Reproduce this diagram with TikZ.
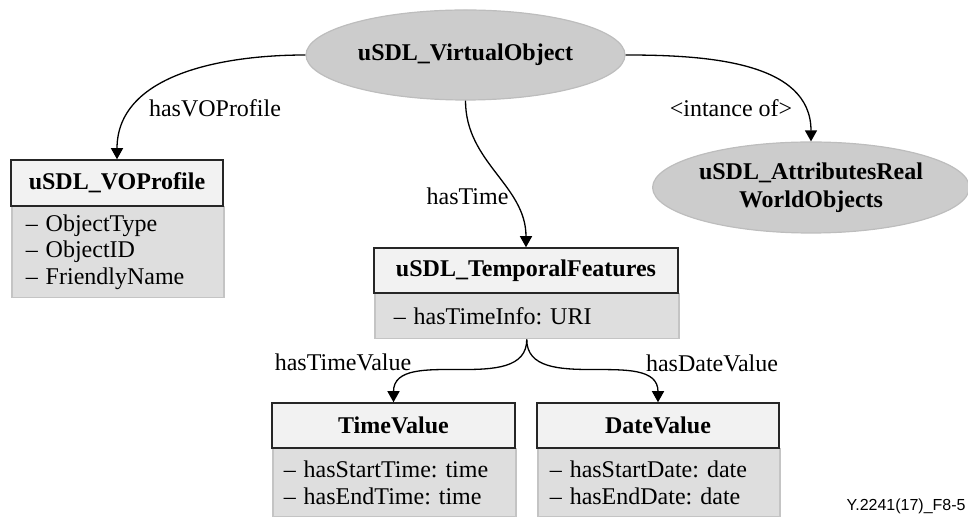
\documentclass[tikz,border=0pt]{standalone}
\usepackage{fontspec}
\setmainfont{Liberation Serif}
\newfontfamily\figlab{Liberation Sans}
\usetikzlibrary{shapes.geometric,arrows.meta}
\definecolor{hdrfill}{HTML}{F2F2F2}
\definecolor{bodyfill}{HTML}{DEDEDE}
\definecolor{bodyline}{HTML}{C4C4C4}
\definecolor{ellfill}{HTML}{CCCCCC}
\definecolor{ellline}{HTML}{BDBDBD}
\frenchspacing
\begin{document}
\begin{tikzpicture}[x=0.5pt,y=-0.5pt,
  every node/.style={font=\fontsize{12}{13.3}\selectfont},
  hdr/.style={draw=black!85, fill=hdrfill, line width=0.75pt, inner sep=0pt,
    font=\fontsize{12}{13.3}\selectfont\bfseries},
  bodybox/.style={draw=bodyline, fill=bodyfill, line width=0.75pt, align=left,
    anchor=north west, inner ysep=2pt},
  ell/.style={ellipse, draw=ellline, fill=ellfill, line width=0.6pt, inner sep=0pt,
    align=center, font=\fontsize{12}{14}\selectfont\bfseries},
  conn/.style={line width=0.65pt, -{Triangle[length=5.5pt,width=6pt]}},
  elab/.style={inner sep=0pt}
]
\useasboundingbox (0,0) rectangle (968,517);

% ellipses
\node[ell, minimum width=159.5pt, minimum height=45pt] (vo) at (465.5,55) {uSDL\_VirtualObject};
\node[ell, minimum width=156pt, minimum height=45.5pt] (attr) at (811,187.5) {uSDL\_AttributesReal\\WorldObjects};

% VOProfile
\node[bodybox, minimum width=106pt, minimum height=45.5pt, inner xsep=7pt, text width=92pt] (vopb) at (11,206)
  {– ObjectType\\– ObjectID\\– FriendlyName};
\node[hdr, minimum width=106pt, minimum height=23pt] (vop) at (117,183) {uSDL\_VOProfile};

% TemporalFeatures
\node[bodybox, minimum width=152pt, minimum height=22.5pt, inner xsep=9.5pt, text width=133pt] (tfb) at (374,293)
  {– hasTimeInfo: URI};
\node[hdr, minimum width=152pt, minimum height=22.5pt] (tf) at (526,270.5) {uSDL\_TemporalFeatures};

% TimeValue
\node[bodybox, minimum width=121.5pt, minimum height=34pt, inner xsep=5.5pt, text width=110.5pt] (tvb) at (272,448)
  {– hasStartTime: time\\– hasEndTime: time};
\node[hdr, minimum width=121.5pt, minimum height=22.5pt] (tv) at (393.5,425.5) {TimeValue};

% DateValue
\node[bodybox, minimum width=121pt, minimum height=34pt, inner xsep=6pt, text width=109pt] (dvb) at (537,448)
  {– hasStartDate: date\\– hasEndDate: date};
\node[hdr, minimum width=121pt, minimum height=22.5pt] (dv) at (658,425.5) {DateValue};

% connectors
\draw[conn] (vo.west) to[out=180,in=90] (vop.north);
\draw[conn] (vo.east) to[out=0,in=90] (attr.north);
\draw[conn] (vo.south) to[out=-90,in=90] (tf.north);
\draw[conn] (tfb.south) to[out=-90,in=90] (tv.north);
\draw[conn] (tfb.south) to[out=-90,in=90] (dv.north);

% labels
\node[elab] (l1) at (215,108) {hasVOProfile};
\node[elab] (l2) at (731,108) {\textless intance of\textgreater};
\node[elab] (l3) at (467.5,196) {hasTime};
\node[elab] (l4) at (343,362) {hasTimeValue};
\node[elab] (l5) at (712,363) {hasDateValue};
\node[anchor=base east, inner sep=0pt, font=\figlab\fontsize{8}{9}\selectfont] (fig) at (966,510) {Y.2241(17)\_F8-5};
\end{tikzpicture}
\end{document}
